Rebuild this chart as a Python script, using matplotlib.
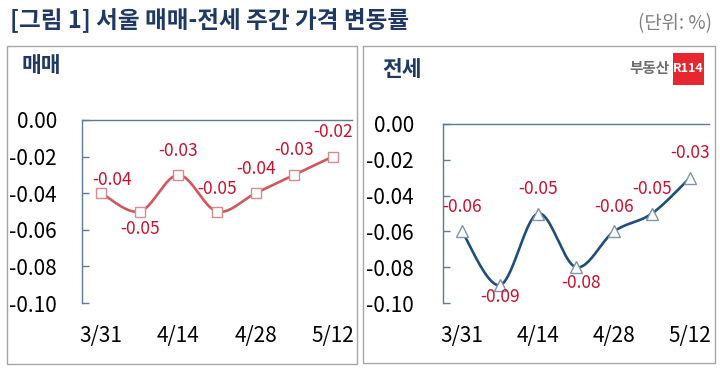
import numpy as np
import matplotlib.pyplot as plt
from matplotlib.patches import Rectangle

plt.rcParams['font.family'] = ['Noto Sans CJK KR', 'DejaVu Sans']

# weekly change (%), Seoul
dates = ['3/31', '4/7', '4/14', '4/21', '4/28', '5/5', '5/12']
shown_dates = ['3/31', '4/14', '4/28', '5/12']
sale = [-0.04, -0.05, -0.03, -0.05, -0.04, -0.03, -0.02]
jeonse = [-0.06, -0.09, -0.05, -0.08, -0.06, -0.05, -0.03]
y_ticks = [0.00, -0.02, -0.04, -0.06, -0.08, -0.10]
y_labels = ['0.00', '-0.02', '-0.04', '-0.06', '-0.08', '-0.10']

# label offsets in pixels (dx, dy)
sale_offsets = [(11, 13), (0, -17), (0, 24), (0, 23), (0, 24), (0, 25), (0, 25)]
jeonse_offsets = [(0, 24), (0, -12), (0, 24), (5, -16), (0, 24), (0, 24), (0, 25)]

NAVY = '#1f3864'
AXIS = '#5f7a94'
LABEL_RED = '#c8102e'


def smooth(x, y, n=40):
    # excel-like smoothed line (catmull-rom bezier)
    x = np.asarray(x, float)
    y = np.asarray(y, float)
    px = np.concatenate([[x[0]], x, [x[-1]]])
    py = np.concatenate([[y[0]], y, [y[-1]]])
    t = np.linspace(0, 1, n)[:, None]
    pts = []
    for i in range(len(x) - 1):
        p0 = np.array([px[i], py[i]])
        p1 = np.array([px[i + 1], py[i + 1]])
        p2 = np.array([px[i + 2], py[i + 2]])
        p3 = np.array([px[i + 3], py[i + 3]])
        c1 = p1 + (p2 - p0) / 6
        c2 = p2 - (p3 - p1) / 6
        seg = ((1 - t) ** 3) * p1 + 3 * ((1 - t) ** 2) * t * c1 + 3 * (1 - t) * t ** 2 * c2 + t ** 3 * p2
        pts.append(seg)
    pts = np.vstack(pts)
    return pts[:, 0], pts[:, 1]


def draw_panel(ax, values, offsets, line_color, marker, m_edge, m_size, label_pad):
    x = np.arange(len(values))
    sx, sy = smooth(x, values)
    ax.plot(sx, sy, color=line_color, lw=1.9, zorder=3)
    ax.plot(x, values, ls='none', marker=marker, ms=m_size, mfc='white',
            mec=m_edge, mew=1.0, zorder=4)
    for xi, v, (dx, dy) in zip(x, values, offsets):
        ax.annotate(f'{v:.2f}', (xi, v), xytext=(dx * 0.72, dy * 0.72),
                    textcoords='offset points', ha='center', va='center',
                    color=LABEL_RED, fontsize=12.5, zorder=5)

    ax.set_xlim(-0.5, len(values) - 0.5)
    ax.set_ylim(-0.10, 0.0)
    ax.set_yticks(y_ticks)
    ax.set_yticklabels(y_labels)
    ax.set_xticks([dates.index(d) for d in shown_dates])
    ax.set_xticklabels(shown_dates)
    ax.tick_params(axis='y', direction='in', length=5, width=1, color=AXIS,
                   labelsize=15, pad=label_pad)
    ax.tick_params(axis='x', length=0, labelsize=15, pad=16)
    for side in ['right', 'bottom']:
        ax.spines[side].set_visible(False)
    for side in ['left', 'top']:
        ax.spines[side].set_color(AXIS)
        ax.spines[side].set_linewidth(1.0)
    ax.patch.set_alpha(0)


fig = plt.figure(figsize=(7.2, 3.74), dpi=100)
W, H = 720, 374


def fx(px):
    return px / W


def fy(py):
    return 1 - py / H


# panel frames
for x0, x1, y0, y1 in [(7, 357, 46, 364), (363, 715, 46, 363)]:
    fig.patches.append(Rectangle((fx(x0), fy(y1)), fx(x1) - fx(x0), fy(y0) - fy(y1),
                                 transform=fig.transFigure, fill=False,
                                 edgecolor='#a6a6a6', lw=1.0))

ax1 = fig.add_axes([fx(82), fy(303), fx(352) - fx(82), fy(120) - fy(303)])
draw_panel(ax1, sale, sale_offsets, '#d1575c', 's', '#d98a8e', 7, 18)

ax2 = fig.add_axes([fx(443), fy(303), fx(709) - fx(443), fy(124) - fy(303)])
draw_panel(ax2, jeonse, jeonse_offsets, '#1f4e79', '^', '#7f95ab', 8.5, 21)

fig.text(fx(10), fy(20), '[그림 1] 서울 매매-전세 주간 가격 변동률', fontsize=17,
         fontweight='bold', color=NAVY, ha='left', va='center')
fig.text(fx(712), fy(24), '(단위: %)', fontsize=13.5, color='#7f7f7f',
         ha='right', va='center')
fig.text(fx(22), fy(66), '매매', fontsize=15.5, fontweight='bold', color=NAVY,
         ha='left', va='center')
fig.text(fx(382), fy(69), '전세', fontsize=15.5, fontweight='bold', color=NAVY,
         ha='left', va='center')

# logo
fig.text(fx(669), fy(68), '부동산', fontsize=10.5, fontweight='bold', color='#6d6d6d',
         ha='right', va='center')
fig.patches.append(Rectangle((fx(673), fy(85)), fx(704) - fx(673), fy(53) - fy(85),
                             transform=fig.transFigure, color='#e8262f', lw=0))
fig.text(fx(688.5), fy(69), 'R114', fontsize=9, fontweight='bold', color='white',
         ha='center', va='center')

fig.savefig('out.png', dpi=100)
